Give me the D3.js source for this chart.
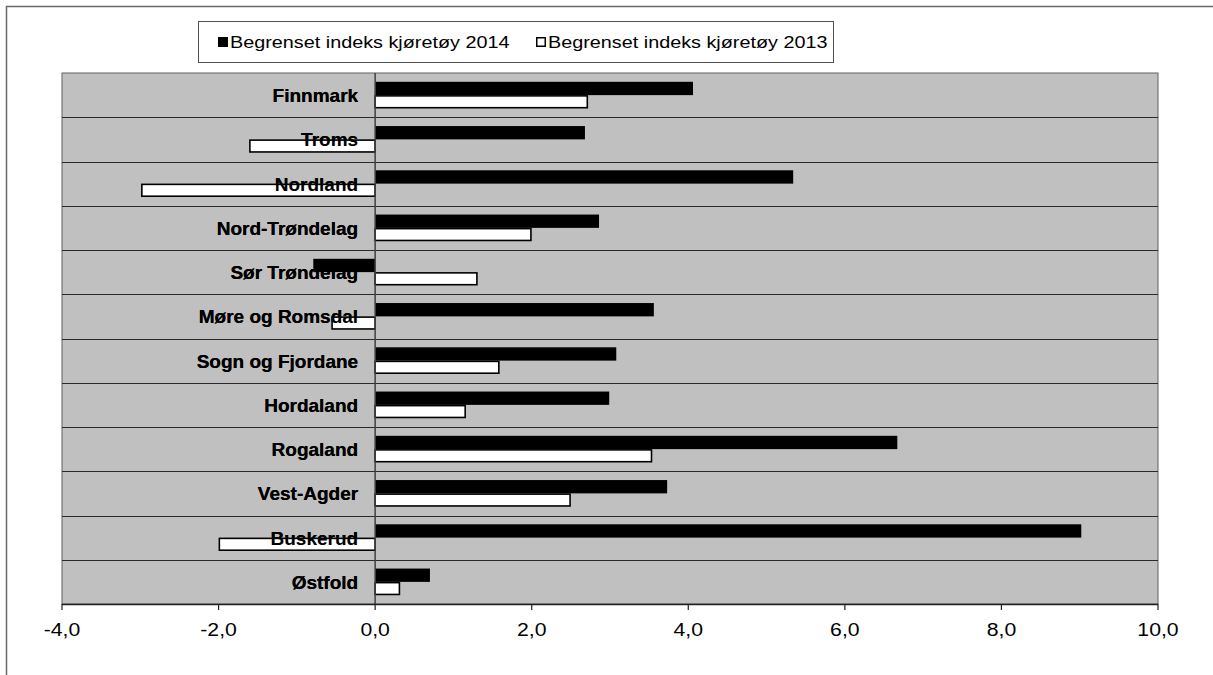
<!DOCTYPE html>
<html>
<head>
<meta charset="utf-8">
<script src="https://cdn.jsdelivr.net/npm/d3@7"></script>
<style>
  html, body { margin: 0; padding: 0; background: #fff; }
  svg { display: block; font-family: "Liberation Sans", Arial, sans-serif; }
</style>
</head>
<body>
<svg id="chart" width="1213" height="675"></svg>
<script>
// ---- data (top to bottom as drawn) ----
const categories = ["Finnmark", "Troms", "Nordland", "Nord-Trøndelag", "Sør Trøndelag",
  "Møre og Romsdal", "Sogn og Fjordane", "Hordaland", "Rogaland", "Vest-Agder", "Buskerud", "Østfold"];
const seriesNames = ["Begrenset indeks kjøretøy 2014", "Begrenset indeks kjøretøy 2013"];
const values2014 = [4.06, 2.68, 5.34, 2.86, -0.79, 3.56, 3.08, 2.99, 6.67, 3.73, 9.02, 0.70];
const values2013 = [2.71, -1.60, -2.98, 1.99, 1.30, -0.55, 1.58, 1.15, 3.53, 2.49, -1.99, 0.31];
const xTicks = [-4, -2, 0, 2, 4, 6, 8, 10];
const xDomain = [-4, 10];

// ---- layout ----
const svg = d3.select("#chart");
const plot = { left: 62, right: 1158, top: 73, bottom: 604 };

const x = d3.scaleLinear().domain(xDomain).range([plot.left, plot.right]);
const y = d3.scaleBand().domain(categories).range([plot.top, plot.bottom]).paddingInner(0).paddingOuter(0);
const ySub = d3.scaleBand().domain(seriesNames).range([0, y.bandwidth()]).paddingInner(0).paddingOuter(0.66);

const locale = d3.formatLocale({ decimal: ",", thousands: " ", grouping: [3], currency: ["", ""], minus: "-" });
const fmt = locale.format(".1f");

// outer frame
svg.append("rect").attr("x", 6.5).attr("y", 6.5).attr("width", 1400).attr("height", 900)
  .attr("fill", "none").attr("stroke", "#6a6a6a").attr("stroke-width", 1.5);

// plot background
svg.append("rect").attr("x", plot.left).attr("y", plot.top)
  .attr("width", plot.right - plot.left).attr("height", plot.bottom - plot.top)
  .attr("fill", "#c0c0c0").attr("stroke", "#606060").attr("stroke-width", 1);

// horizontal band separators
const bounds = categories.slice(1).map(c => y(c));
svg.append("g").selectAll("line").data(bounds).join("line")
  .attr("x1", plot.left).attr("x2", plot.right)
  .attr("y1", d => Math.round(d) + 0.5).attr("y2", d => Math.round(d) + 0.5)
  .attr("stroke", "#2a2a2a").attr("stroke-width", 1.2);

// data rows
const rows = categories.map((c, i) => ({ cat: c, v: [values2014[i], values2013[i]] }));

// category labels (drawn under bars? original shows text overlapped by bars' fills partially)
const labelG = svg.append("g");
labelG.selectAll("text").data(categories).join("text")
  .attr("x", x(0) - 17)
  .attr("y", d => y(d) + y.bandwidth() / 2 + 7)
  .attr("text-anchor", "end")
  .attr("font-size", 19).attr("font-weight", "bold").attr("fill", "#000")
  .text(d => d);

// bars
const barG = svg.append("g");
rows.forEach(r => {
  seriesNames.forEach((s, j) => {
    const v = r.v[j];
    const x0 = x(Math.min(0, v)), x1 = x(Math.max(0, v));
    const yy = y(r.cat) + ySub(s);
    if (j === 0) {
      barG.append("rect").attr("x", x0).attr("y", yy).attr("width", x1 - x0).attr("height", ySub.bandwidth())
        .attr("fill", "#000");
    } else {
      barG.append("rect").attr("x", x0).attr("y", yy + 0.75).attr("width", x1 - x0).attr("height", ySub.bandwidth() - 1.5)
        .attr("fill", "#fff").attr("stroke", "#000").attr("stroke-width", 1.6);
    }
  });
});

// category labels on top (text visible over white bars)
svg.append("g").selectAll("text").data(categories).join("text")
  .attr("x", x(0) - 17)
  .attr("y", d => y(d) + y.bandwidth() / 2 + 7)
  .attr("text-anchor", "end")
  .attr("font-size", 19).attr("font-weight", "bold").attr("fill", "#000")
  .text(d => d);

// zero line (category axis)
svg.append("line").attr("x1", x(0)).attr("x2", x(0)).attr("y1", plot.top).attr("y2", plot.bottom)
  .attr("stroke", "#404040").attr("stroke-width", 1.5);

// bottom value axis
const axisG = svg.append("g").attr("transform", `translate(0,${plot.bottom})`);
axisG.append("line").attr("x1", plot.left).attr("x2", plot.right).attr("y1", 0.5).attr("y2", 0.5)
  .attr("stroke", "#202020").attr("stroke-width", 1.5);
const tickG = axisG.selectAll("g.tick").data(xTicks).join("g").attr("class", "tick")
  .attr("transform", d => `translate(${x(d)},0)`);
tickG.append("line").attr("y1", 0).attr("y2", 6).attr("stroke", "#202020").attr("stroke-width", 1.2);
tickG.append("text").attr("transform", "translate(0,32) scale(1.18,1)")
  .attr("text-anchor", "middle").attr("font-size", 18).attr("fill", "#000")
  .text(d => fmt(d));

// legend
const legend = svg.append("g");
legend.append("rect").attr("x", 198.5).attr("y", 21.5).attr("width", 635).attr("height", 41)
  .attr("fill", "#fff").attr("stroke", "#505050").attr("stroke-width", 1);
const legendX = [218, 536];
seriesNames.forEach((s, j) => {
  const g = legend.append("g").attr("transform", `translate(${legendX[j]},37)`);
  if (j === 0) {
    g.append("rect").attr("x", 0).attr("y", 0).attr("width", 10).attr("height", 10).attr("fill", "#000");
  } else {
    g.append("rect").attr("x", 0.75).attr("y", 0.75).attr("width", 8.5).attr("height", 8.5)
      .attr("fill", "#fff").attr("stroke", "#000").attr("stroke-width", 1.5);
  }
  g.append("text").attr("transform", "translate(12,11) scale(1.2,1)")
    .attr("font-size", 16.5).attr("fill", "#000").text(s);
});
</script>
</body>
</html>
